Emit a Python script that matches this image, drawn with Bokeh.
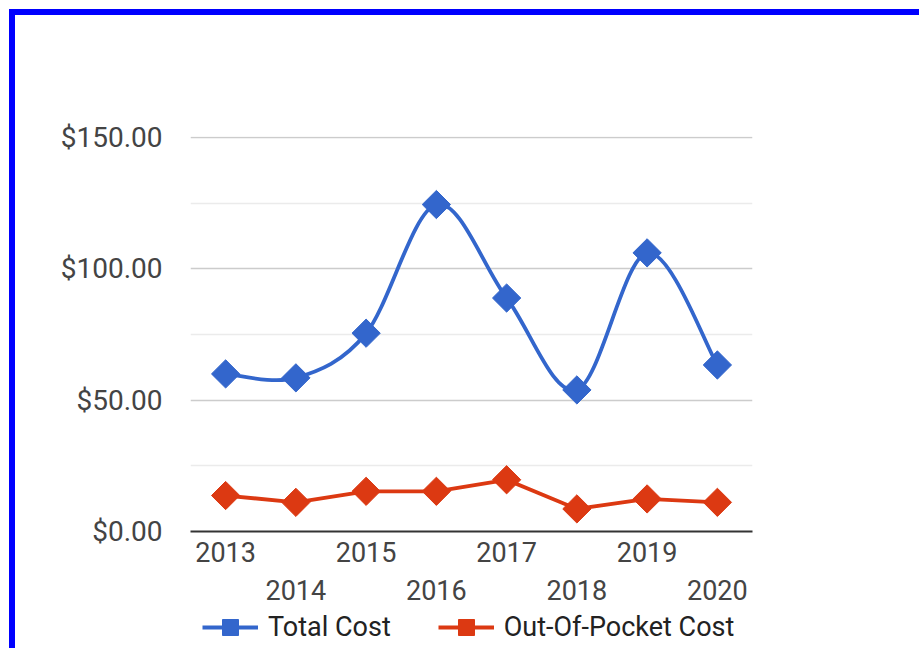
import math
from bokeh.plotting import figure
from bokeh.layouts import column
from bokeh.models import (Range1d, FixedTicker, PrintfTickFormatter, LinearAxis,
                          Legend, LegendItem, ColumnDataSource)
from bokeh.embed import file_html
from bokeh.resources import INLINE

# ---- data ----
years = ["2013", "2014", "2015", "2016", "2017", "2018", "2019", "2020"]
total_cost = [60.0, 58.5, 75.5, 124.5, 88.9, 53.9, 106.1, 63.4]
out_of_pocket = [13.7, 11.1, 15.3, 15.3, 19.7, 8.6, 12.4, 11.1]
series_names = ["Total Cost", "Out-Of-Pocket Cost"]
y_ticks = [0, 50, 100, 150]
y_minor = [25, 75, 125]

BLUE = "#3366cc"
RED = "#dc3912"
FONT = "Roboto"

xs = list(range(len(years)))

p = figure(frame_width=562, frame_height=395, output_backend="svg", toolbar_location=None,
           x_range=Range1d(-0.5, len(years) - 0.5), y_range=Range1d(0, 150.4),
           min_border_left=175, min_border_right=167, min_border_top=121,
           min_border_bottom=75)
p.outline_line_color = None

# grid
p.xgrid.visible = False
p.ygrid.ticker = FixedTicker(ticks=y_ticks, minor_ticks=y_minor)
p.ygrid.grid_line_color = "#cccccc"
p.ygrid.grid_line_width = 1.5
p.ygrid.minor_grid_line_color = "#ebebeb"
p.ygrid.minor_grid_line_width = 1.5

# y axis
ya = p.yaxis[0]
ya.ticker = FixedTicker(ticks=y_ticks)
ya.formatter = PrintfTickFormatter(format="$%.2f")
ya.axis_line_color = None
ya.major_tick_line_color = None
ya.minor_tick_line_color = None
ya.major_tick_out = 0
ya.major_label_standoff = 28
ya.major_label_text_font = FONT
ya.major_label_text_font_size = "28px"
ya.major_label_text_color = "#444444"

# x axes (two staggered rows)
labels = {i: y for i, y in zip(xs, years)}
xa = p.xaxis[0]
xa.ticker = FixedTicker(ticks=xs[0::2])
xa.major_label_overrides = labels
xa.axis_line_color = "#333333"
xa.axis_line_width = 2
xa.major_tick_line_color = None
xa.minor_tick_line_color = None
xa.major_tick_out = 0
xa.major_label_standoff = 10
xa.major_label_text_font = FONT
xa.major_label_text_font_size = "27px"
xa.major_label_text_color = "#444444"

xa2 = LinearAxis(ticker=FixedTicker(ticks=xs[1::2]), major_label_overrides=labels)
xa2.axis_line_color = None
xa2.major_tick_line_color = None
xa2.minor_tick_line_color = None
xa2.major_tick_out = 0
xa2.major_label_standoff = 15
xa2.major_label_text_font = FONT
xa2.major_label_text_font_size = "27px"
xa2.major_label_text_color = "#444444"
p.add_layout(xa2, "below")

# smooth curve for total cost (Catmull-Rom -> cubic Bezier)
n = len(total_cost)
bx0, by0, bx1, by1, cx0, cy0, cx1, cy1 = [], [], [], [], [], [], [], []
for i in range(n - 1):
    y0 = total_cost[i - 1] if i > 0 else total_cost[i]
    x0 = xs[i - 1] if i > 0 else xs[i]
    y3 = total_cost[i + 2] if i + 2 < n else total_cost[i + 1]
    x3 = xs[i + 2] if i + 2 < n else xs[i + 1]
    bx0.append(xs[i]); by0.append(total_cost[i])
    bx1.append(xs[i + 1]); by1.append(total_cost[i + 1])
    cx0.append(xs[i] + (xs[i + 1] - x0) / 6.0)
    cy0.append(total_cost[i] + (total_cost[i + 1] - y0) / 6.0)
    cx1.append(xs[i + 1] - (x3 - xs[i]) / 6.0)
    cy1.append(total_cost[i + 1] - (y3 - total_cost[i]) / 6.0)

bsrc = ColumnDataSource(dict(x0=bx0, y0=by0, x1=bx1, y1=by1, cx0=cx0, cy0=cy0, cx1=cx1, cy1=cy1))
p.bezier(x0="x0", y0="y0", x1="x1", y1="y1", cx0="cx0", cy0="cy0",
         cx1="cx1", cy1="cy1", source=bsrc, line_color=BLUE, line_width=3.8,
         line_cap="round")
p.scatter(xs, total_cost, marker="square", angle=math.pi / 4, size=20,
          fill_color=BLUE, line_color=BLUE)
p.line(xs, out_of_pocket, line_color=RED, line_width=3.8, line_join="round")
p.scatter(xs, out_of_pocket, marker="square", angle=math.pi / 4, size=20,
          fill_color=RED, line_color=RED)

# ---- legend strip below the chart ----
lp = figure(width=904, height=42, output_backend="svg", toolbar_location=None,
            x_range=Range1d(0, 1), y_range=Range1d(0, 1),
            x_axis_location=None, y_axis_location=None, min_border=0)
lp.outline_line_color = None
lp.xgrid.visible = False
lp.ygrid.visible = False

items = []
for name, color in zip(series_names, [BLUE, RED]):
    src = ColumnDataSource(dict(x=[float("nan")], y=[float("nan")]))
    rl = lp.line(x="x", y="y", source=src, line_color=color, line_width=3.8)
    rs = lp.scatter(x="x", y="y", source=src, marker="square", size=20,
                    fill_color=color, line_color=color)
    items.append(LegendItem(label=name, renderers=[rl, rs]))

legend = Legend(items=items, orientation="horizontal", location=(12, 1))
legend.glyph_width = 56
legend.glyph_height = 40
legend.label_standoff = 10
legend.label_height = 20
legend.spacing = 47
legend.padding = 0
legend.margin = 0
legend.border_line_color = None
legend.background_fill_alpha = 0
legend.label_text_font = FONT
legend.label_text_font_size = "27px"
legend.label_text_color = "#222222"
lp.add_layout(legend)

layout = column(p, lp, spacing=0)
layout.styles = {"margin-left": "9px", "margin-top": "9px",
                 "border-left": "6px solid #0000ff", "border-top": "6px solid #0000ff"}

open("out.html", "w").write(file_html(layout, INLINE))
